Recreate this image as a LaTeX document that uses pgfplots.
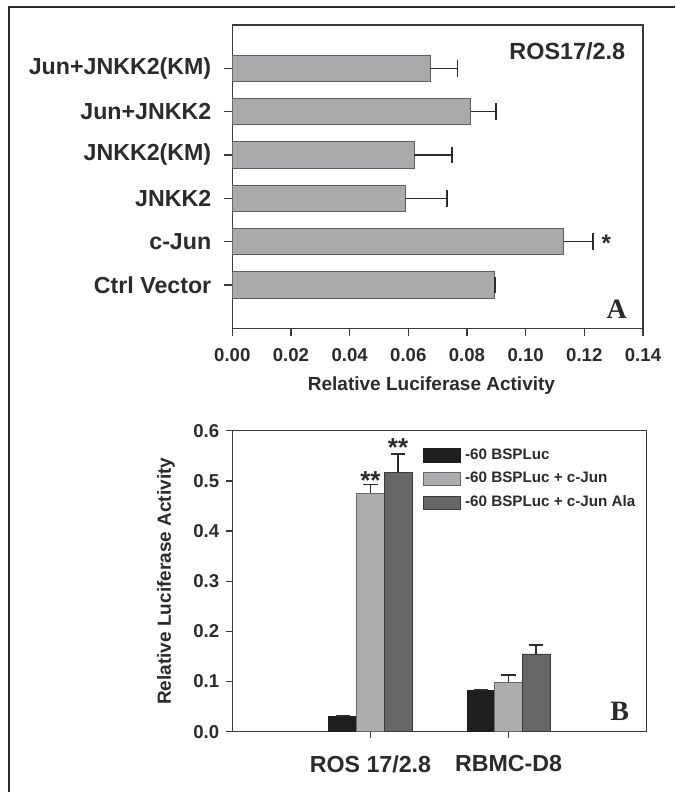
\documentclass[border=0pt]{standalone}
\usepackage{pgfplots}
\pgfplotsset{compat=1.18}
\usepackage{fontspec}
\setmainfont{Liberation Sans}
\newfontfamily\serifbf{Liberation Serif}
\newcommand{\fs}[1]{\fontsize{#1}{#1}\selectfont}
\definecolor{txt}{HTML}{2B2B2B}
\definecolor{axc}{HTML}{3A3A3A}
\definecolor{barA}{HTML}{AAAAAC}
\definecolor{edgeA}{HTML}{5E5E5E}
\definecolor{bBlack}{HTML}{1F1D1E}
\definecolor{bLight}{HTML}{ADADAF}
\definecolor{bDark}{HTML}{67676A}
\begin{document}
\begin{tikzpicture}
\path[use as bounding box, fill=white] (0,0) rectangle (337.5pt,396pt);
\draw[line width=1pt, color=txt] (4.5pt,0pt) -- (4.5pt,392.5pt) -- (337.5pt,392.5pt);
% ---------------- Panel A ----------------
\begin{axis}[
  at={(116.15pt,231.85pt)}, anchor=south west,
  scale only axis, width=205.35pt, height=151.65pt,
  xbar, bar width=13.15pt,
  xmin=0, xmax=0.14, ymin=-1, ymax=6,
  xtick={0,0.02,0.04,0.06,0.08,0.10,0.12,0.14},
  scaled x ticks=false,
  ytick={0,1,2,3,4,5},
  yticklabels={Ctrl Vector,c-Jun,JNKK2,JNKK2(KM),Jun+JNKK2,Jun+JNKK2(KM)},
  tick align=outside, tick pos=left,
  major tick length=4pt,
  axis line style={line width=0.7pt, draw=axc},
  every tick/.style={line width=0.7pt, draw=axc},
  /pgf/number format/assume math mode=true,
  xticklabel style={/pgf/number format/fixed, /pgf/number format/fixed zerofill, /pgf/number format/precision=2, font=\bfseries\fs{9.3pt}, text=txt, yshift=-2.5pt},
  yticklabel style={font=\bfseries\fs{11.6pt}, text=txt, xshift=-3pt},
  xlabel={Relative Luciferase Activity},
  xlabel style={font=\bfseries\fs{9.5pt}, text=txt, at={(rel axis cs:0.485,-0.19)}, anchor=center},
]
\addplot[fill=barA, draw=edgeA, line width=0.4pt,
  error bars/.cd, x dir=plus, x explicit,
  error bar style={line width=0.8pt, draw=txt},
  error mark options={rotate=90, line width=0.8pt, draw=txt, mark size=4.2pt}]
coordinates {
(0.0892,0) +- (0.0003,0)
(0.1130,1) +- (0.0100,0)
(0.0589,2) +- (0.0142,0)
(0.0620,3) +- (0.0128,0)
(0.0813,4) +- (0.0085,0)
(0.0674,5) +- (0.0093,0)
};
\node[font=\bfseries\fs{12pt}, text=txt] at (axis cs:0.1275,0.96) {*};
\end{axis}
% ---------------- Panel B ----------------
\begin{axis}[
  at={(116.15pt,30.15pt)}, anchor=south west,
  scale only axis, width=207.2pt, height=150.5pt,
  ybar, bar width=13.85pt,
  xmin=-1, xmax=2, ymin=0, ymax=0.6,
  xtick={0,1}, xticklabels={ROS 17/2.8,RBMC-D8},
  ytick={0,0.1,0.2,0.3,0.4,0.5,0.6},
  tick align=outside, tick pos=left,
  major tick length=3pt,
  axis line style={line width=0.7pt, draw=axc},
  every tick/.style={line width=0.7pt, draw=axc},
  /pgf/number format/assume math mode=true,
  yticklabel style={/pgf/number format/fixed, /pgf/number format/fixed zerofill, /pgf/number format/precision=1, font=\bfseries\fs{9.3pt}, text=txt},
  xticklabel style={font=\bfseries\fs{11.6pt}, text=txt, yshift=-5.5pt},
  ylabel={Relative Luciferase Activity},
  ylabel style={font=\bfseries\fs{9.5pt}, text=txt, at={(rel axis cs:-0.16,0.5)}, anchor=center},
  every axis plot post/.append style={legend image code/.code={\draw[#1] (0pt,-3.3pt) rectangle (18.5pt,3.3pt);}},
  legend style={at={(rel axis cs:0.46,0.955)}, anchor=north west, draw=none, fill=none, inner sep=0pt,
    font=\bfseries\fs{7.6pt}, text=txt, row sep=1pt,
    /tikz/every even column/.append style={column sep=3pt}},
  legend cell align=left,
]
\addplot[fill=bBlack, draw=bBlack, bar shift=-13.85pt,
  error bars/.cd, y dir=plus, y explicit,
  error bar style={line width=0.8pt, draw=txt},
  error mark options={rotate=90, line width=0.8pt, draw=txt, mark size=3.6pt}]
coordinates {(0,0.0300) +- (0,0.0015) (1,0.0817) +- (0,0.0015)};
\addplot[fill=bLight, draw=bDark, bar shift=0pt,
  error bars/.cd, y dir=plus, y explicit,
  error bar style={line width=0.8pt, draw=txt},
  error mark options={rotate=90, line width=0.8pt, draw=txt, mark size=3.6pt}]
coordinates {(0,0.475) +- (0,0.018) (1,0.099) +- (0,0.0145)};
\addplot[fill=bDark, draw=axc, bar shift=13.85pt,
  error bars/.cd, y dir=plus, y explicit,
  error bar style={line width=0.8pt, draw=txt},
  error mark options={rotate=90, line width=0.8pt, draw=txt, mark size=3.6pt}]
coordinates {(0,0.516) +- (0,0.037) (1,0.155) +- (0,0.018)};
\legend{-60 BSPLuc,-60 BSPLuc + c-Jun,-60 BSPLuc + c-Jun Ala}
\node[font=\bfseries\fs{13pt}, text=txt] at (axis cs:0,0.500) {**};
\node[font=\bfseries\fs{13pt}, text=txt] at (axis cs:0.2,0.566) {**};
\end{axis}
% ---------------- texts ----------------
\node[anchor=east, font=\bfseries\fs{11.7pt}, text=txt] at (316.15pt,370.5pt) {ROS17/2.8};
\node[anchor=east, font=\serifbf\bfseries\fs{14pt}, text=txt] at (317pt,241.5pt) {A};
\node[anchor=east, font=\serifbf\bfseries\fs{14pt}, text=txt] at (318pt,40.5pt) {B};
\end{tikzpicture}
\end{document}
